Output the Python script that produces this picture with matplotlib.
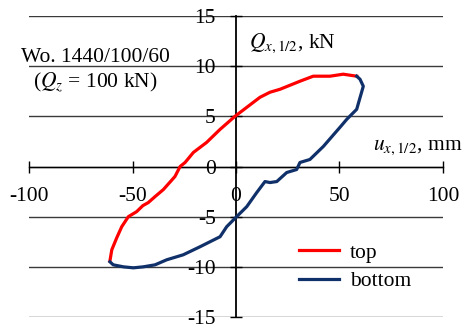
import matplotlib
matplotlib.use('Agg')
import matplotlib.pyplot as plt

plt.rcParams['font.family'] = ['Liberation Serif', 'DejaVu Serif']
plt.rcParams['mathtext.fontset'] = 'stix'
plt.rcParams['axes.unicode_minus'] = False

# top curve (loading), u [mm], Q [kN]
top_u = [-60.9, -60.0, -57.6, -55.2, -52.0, -48.0, -45.0, -42.4, -39.1, -35.1,
         -29.5, -27.0, -24.6, -22.2, -20.6, -14.2, -7.7, -0.5, 8.4, 11.6,
         16.4, 21.3, 30.9, 37.3, 45.4, 51.8, 58.3]
top_q = [-9.4, -8.3, -7.1, -6.0, -5.0, -4.5, -3.9, -3.6, -3.0, -2.3,
         -1.0, 0.0, 0.4, 1.0, 1.4, 2.4, 3.7, 5.0, 6.4, 6.9,
         7.4, 7.7, 8.5, 9.0, 9.0, 9.2, 9.0]

# bottom curve (unloading)
bot_u = [58.3, 59.9, 61.5, 58.3, 53.5, 50.2, 42.2, 35.7, 30.9, 29.3,
         24.5, 19.7, 16.4, 14.0, 10.0, 5.2, 0.3, -4.5, -7.7, -17.4,
         -25.5, -33.5, -39.1, -44.8, -49.6, -54.4, -59.3, -60.9]
bot_q = [9.0, 8.7, 8.0, 5.7, 4.7, 3.9, 2.0, 0.7, 0.4, -0.3,
         -0.6, -1.5, -1.6, -1.5, -2.6, -4.0, -5.0, -6.0, -7.0, -8.0,
         -8.8, -9.3, -9.8, -10.0, -10.1, -10.0, -9.8, -9.5]

x_ticks = [-100, -50, 0, 50, 100]
y_ticks = [-15, -10, -5, 0, 5, 10, 15]

fig = plt.figure(figsize=(4.64, 3.25), dpi=100)
ax = fig.add_axes([29 / 464, 1 - 317 / 325, 414 / 464, 301 / 325])

ax.set_xlim(-100, 100)
ax.set_ylim(-15, 15)

for yt in y_ticks:
    ax.axhline(yt, color='#3a3a3a', linewidth=1.0, zorder=1)

ax.spines['top'].set_visible(False)
ax.spines['right'].set_visible(False)
ax.spines['left'].set_position(('data', 0))
ax.spines['bottom'].set_position(('data', 0))
ax.spines['left'].set_linewidth(1.3)
ax.spines['bottom'].set_linewidth(1.0)

ax.set_xticks(x_ticks)
ax.set_yticks(y_ticks)
ax.tick_params(axis='both', direction='inout', length=9, width=1.0,
               labelsize=15.5)
ax.tick_params(axis='x', pad=10)
ax.tick_params(axis='y', pad=10)

ax.plot(top_u, top_q, color='#ff0000', linewidth=2.3, label='top', zorder=3)
ax.plot(bot_u, bot_q, color='#10306a', linewidth=2.3, label='bottom', zorder=3)

ax.legend(loc='center', bbox_to_anchor=(355 / 464, 1 - 267 / 325),
          bbox_transform=fig.transFigure, frameon=False, fontsize=15.5,
          handlelength=1.9, handletextpad=0.5, labelspacing=0.4)

fig.text(95 / 464, 1 - 57 / 325, 'Wo. 1440/100/60', ha='center', va='center',
         fontsize=15.5)
fig.text(95 / 464, 1 - 82 / 325, r'($Q_z$ = 100 kN)', ha='center',
         va='center', fontsize=15.5)
fig.text(249 / 464, 1 - 43 / 325, r'$Q_{x,1/2}$, kN', ha='left', va='center',
         fontsize=15.5)
fig.text(462 / 464, 1 - 147 / 325, r'$u_{x,1/2}$, mm', ha='right',
         va='center', fontsize=15.5)

fig.savefig('out.png', dpi=100)
